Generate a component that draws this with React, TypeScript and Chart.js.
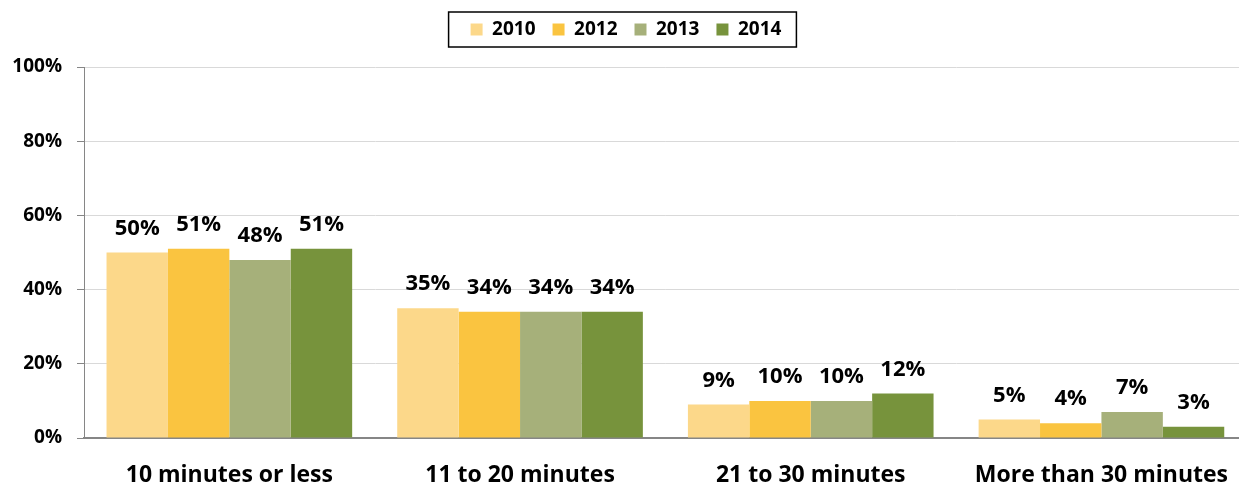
import React, { useEffect, useRef } from "react";
import { Chart, registerables } from "chart.js";

Chart.register(...registerables);

const categories = ["10 minutes or less", "11 to 20 minutes", "21 to 30 minutes", "More than 30 minutes"];
const seriesNames = ["2010", "2012", "2013", "2014"];
const values2010 = [50, 35, 9, 5];
const values2012 = [51, 34, 10, 4];
const values2013 = [48, 34, 10, 7];
const values2014 = [51, 34, 12, 3];
const colors = ["#FCD88A", "#FAC440", "#A6B07A", "#77933C"];
const yTicks = [0, 20, 40, 60, 80, 100];

const FONT = "'Open Sans', Lato, sans-serif";
const CANVAS_W = 1252;

const dataLabelPlugin = {
  id: "dataLabels",
  afterDatasetsDraw(chart: any) {
    const ctx = chart.ctx;
    ctx.save();
    ctx.font = `bold 22px ${FONT}`;
    ctx.fillStyle = "#000";
    ctx.textAlign = "center";
    ctx.textBaseline = "middle";
    chart.data.datasets.forEach((ds: any, i: number) => {
      const meta = chart.getDatasetMeta(i);
      meta.data.forEach((bar: any, j: number) => {
        ctx.fillText(ds.data[j] + "%", bar.x, bar.y - 24);
      });
    });
    ctx.restore();
  },
};

const legendBorderPlugin = {
  id: "legendBorder",
  afterInit(chart: any) {
    const lg = chart.legend;
    if (!lg) return;
    const fit = lg.fit;
    lg.fit = function () {
      fit.call(this);
      this.height = 64;
    };
  },
  afterDraw(chart: any) {
    const lg = chart.legend;
    if (!lg || !lg.legendHitBoxes || !lg.legendHitBoxes.length) return;
    const boxes = lg.legendHitBoxes;
    let l = Infinity, r = -Infinity, t = Infinity, b = -Infinity;
    boxes.forEach((h: any) => {
      l = Math.min(l, h.left);
      r = Math.max(r, h.left + h.width);
      t = Math.min(t, h.top);
      b = Math.max(b, h.top + h.height);
    });
    const cy = (t + b) / 2;
    const ctx = chart.ctx;
    ctx.save();
    ctx.strokeStyle = "#000";
    ctx.lineWidth = 1.5;
    ctx.strokeRect(l - 22, cy - 17.5, r - l + 37, 35);
    ctx.restore();
  },
};

export default function App() {
  const ref = useRef<HTMLCanvasElement>(null);
  useEffect(() => {
    const seriesValues = [values2010, values2012, values2013, values2014];
    const chart = new Chart(ref.current as HTMLCanvasElement, {
      type: "bar",
      data: {
        labels: categories,
        datasets: seriesNames.map((name, i) => ({
          label: name,
          data: seriesValues[i],
          backgroundColor: colors[i],
          borderWidth: 0,
          categoryPercentage: 0.845,
          barPercentage: 1,
        })),
      },
      options: {
        animation: false,
        responsive: false,
        maintainAspectRatio: false,
        layout: { padding: { top: 3, left: 0, right: 0, bottom: 0 } },
        plugins: {
          tooltip: { enabled: false },
          legend: {
            position: "top",
            align: "center",
            labels: {
              boxWidth: 12,
              boxHeight: 12,
              padding: 17,
              color: "#000",
              font: { family: FONT, size: 19, weight: "bold" },
            },
          },
        },
        scales: {
          x: {
            afterFit: (scale: any) => {
              scale.height = 49;
            },
            grid: { display: false, drawTicks: false },
            border: { color: "#868686", width: 2 },
            ticks: {
              color: "#000",
              padding: 24,
              font: { family: FONT, size: 23, weight: "bold" },
            },
          },
          y: {
            min: 0,
            max: 100,
            afterFit: (scale: any) => {
              scale.width = 84;
            },
            afterBuildTicks: (axis: any) => {
              axis.ticks = yTicks.map((v) => ({ value: v }));
            },
            grid: { color: "#D9D9D9", lineWidth: 1, tickLength: 7, tickColor: "#868686" },
            border: { color: "#868686", width: 1 },
            ticks: {
              color: "#000",
              padding: 15,
              font: { family: FONT, size: 19, weight: "bold" },
              callback: (v: any) => v + "%",
            },
          },
        },
      },
      plugins: [dataLabelPlugin, legendBorderPlugin],
    });
    return () => chart.destroy();
  }, []);
  return (
    <div style={{ position: "fixed", left: 0, top: 0, width: 1239, height: 487, overflow: "hidden", background: "#fff" }}>
      <canvas ref={ref} width={CANVAS_W} height={487} style={{ width: CANVAS_W, height: 487, display: "block" }} />
    </div>
  );
}
